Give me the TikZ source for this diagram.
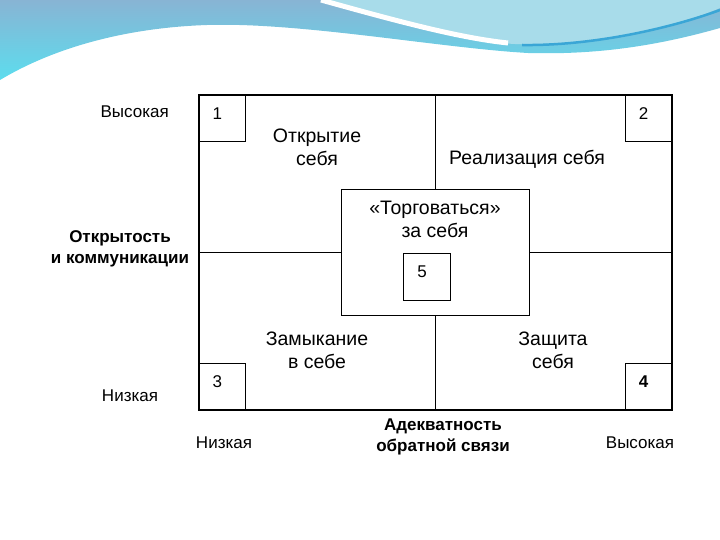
\documentclass[tikz,border=0pt]{standalone}
\usepackage{fontspec}
\setmainfont{Liberation Sans}
\usepackage{tikz}

\definecolor{wavetop}{HTML}{88B4D4}
\definecolor{wavelow}{HTML}{5CDDEE}
\definecolor{wavelight}{HTML}{A8DCEA}
\definecolor{wavedark}{HTML}{3AA6D6}

\begin{document}
\begin{tikzpicture}[x=1pt, y=-1pt,
	zone/.style={align=center, font=\fontsize{19.5}{23}\selectfont, inner sep=0},
	side/.style={align=center, font=\fontsize{17}{21}\selectfont, inner sep=0},
	axistext/.style={align=center, font=\bfseries\fontsize{17}{21}\selectfont, inner sep=0},
	numbox/.style={draw, line width=0.8pt, minimum size=47pt, inner sep=0,
		label={[font=\fontsize{17}{21}\selectfont, shift={(-5pt,5pt)}]center:#1}}]
	\useasboundingbox (0,0) rectangle (720,540);
	% The wave on top is drawn by hand.
	\shade[top color=wavetop, bottom color=wavelow] (0,0) -- (720,0) -- (720,28)
		.. controls (660,45) and (600,55) .. (528,53)
		.. controls (440,48) and (300,22) .. (207,25)
		.. controls (120,28) and (50,50) .. (0,80) -- cycle;
	\fill[wavelight] (321,0) .. controls (400,22) and (470,42) .. (515,44)
		.. controls (600,46) and (680,25) .. (720,8) -- (720,0) -- cycle;
	\draw[white, line width=5pt] (321,0) .. controls (400,22) and (460,38) .. (508,43);
	\draw[wavedark, line width=2.5pt] (522,45) .. controls (600,46) and (680,25) .. (720,10);
	\node(grid) [draw, line width=1.2pt, minimum width=473pt, minimum height=315pt] at (435.5, 252.5) {};
	\node(mid) [draw, line width=1.2pt, minimum width=188pt, minimum height=126pt] at (435.5, 252.5) {};
	\draw[line width=1.2pt] (grid.north) -- (mid.north);
	\draw[line width=1.2pt] (grid.south) -- (mid.south);
	\draw[line width=1.2pt] (grid.west) -- (mid.west);
	\draw[line width=1.2pt] (grid.east) -- (mid.east);
	\node(n1) [numbox=1, anchor=north west] at (grid.north west) {};
	\node(n2) [numbox=2, anchor=north east] at (grid.north east) {};
	\node(n3) [numbox=3, anchor=south west] at (grid.south west) {};
	\node(n4) [numbox={\bfseries 4}, anchor=south east] at (grid.south east) {};
	\node(n5) [numbox=5] at (427, 276.5) {};
	\node (open) [zone] at (317, 147) {Открытие\\себя};
	\node (real) [zone] at (527, 159) {Реализация себя};
	\node (bargain) [zone] at (435, 219) {«Торговаться»\\за себя};
	\node (close) [zone] at (317, 350) {Замыкание\\в себе};
	\node (guard) [zone] at (553, 350) {Защита\\себя};
	\node (yhigh) [side, anchor=east] at (169, 112) {Высокая};
	\node (ylow) [side] at (130, 396) {Низкая};
	\node (yname) [axistext] at (120, 249) {Открытость\\и коммуникации};
	\node (xlow) [side] at (224, 443) {Низкая};
	\node (xname) [axistext] at (443, 437) {Адекватность\\обратной связи};
	\node (xhigh) [side] at (640, 443) {Высокая};
\end{tikzpicture}
\end{document}
